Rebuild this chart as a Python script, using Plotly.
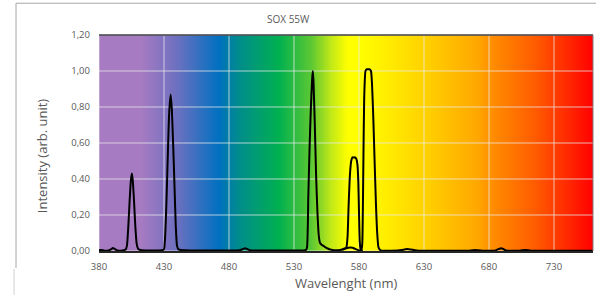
import plotly.graph_objects as go

# ---- data ----
wavelength = [380, 382, 384, 386, 388, 389.5, 390.7, 392, 393.5, 395, 397, 399, 400.5,
              401.5, 402.5, 403.5, 404.5, 405.3, 406, 407, 408, 409, 410, 411, 413, 416, 420, 425,
              428.5, 430, 431, 432, 433, 434, 435.1, 436, 437, 438, 439, 440, 441, 443, 446,
              450, 460, 470, 480, 486, 489, 491, 492.5, 494, 496, 499, 505, 515, 525,
              532, 537, 539, 540, 541, 542, 543, 544, 544.5, 545, 546, 547, 548, 549, 550,
              551, 552, 554, 556, 558, 561, 564, 567, 569, 570.3, 571.2, 572, 573, 574, 575,
              576, 577, 578, 578.8, 579.5, 580.1, 580.6, 581.2, 581.8, 582.5, 583.3, 584,
              585, 586, 587, 588, 589.2, 590, 591, 592, 593, 594, 595, 596.5, 598, 601, 605,
              610, 613, 617, 620, 623, 626, 635, 650, 665, 668, 669.5, 671, 675, 680, 684,
              686, 687.5, 689.3, 691, 692.5, 694, 698, 703, 705.5, 708, 710.5, 713, 720,
              730, 745, 760]
intensity = [0.006, 0.005, 0.003, 0.002, 0.004, 0.011, 0.016, 0.012, 0.005, 0.002, 0.002, 0.004, 0.008,
             0.03, 0.13, 0.27, 0.39, 0.43, 0.39, 0.27, 0.13, 0.04, 0.014, 0.007, 0.004, 0.003, 0.003, 0.003,
             0.004, 0.01, 0.1, 0.3, 0.55, 0.77, 0.87, 0.79, 0.6, 0.38, 0.15, 0.03, 0.01, 0.005, 0.004,
             0.003, 0.003, 0.003, 0.003, 0.003, 0.006, 0.012, 0.015, 0.011, 0.005, 0.003, 0.003, 0.003, 0.003,
             0.003, 0.003, 0.005, 0.02, 0.3, 0.58, 0.8, 0.96, 1.0, 0.94, 0.7, 0.42, 0.22, 0.09, 0.045,
             0.036, 0.031, 0.022, 0.014, 0.008, 0.004, 0.004, 0.008, 0.014, 0.02, 0.08, 0.25, 0.42, 0.5, 0.52,
             0.52, 0.52, 0.51, 0.48, 0.38, 0.18, 0.05, 0.01, 0.004, 0.04, 0.45, 0.85,
             1.0, 1.01, 1.01, 1.01, 1.0, 0.93, 0.74, 0.5, 0.27, 0.1, 0.02, 0.004, 0.002, 0.002, 0.002,
             0.003, 0.006, 0.011, 0.008, 0.004, 0.002, 0.002, 0.002, 0.002, 0.004, 0.005, 0.004, 0.002, 0.002, 0.002,
             0.006, 0.011, 0.015, 0.011, 0.005, 0.002, 0.002, 0.002, 0.004, 0.005, 0.004, 0.002, 0.002,
             0.002, 0.002, 0.002]

# weak continuum hump visible underneath the 575 nm band
hump_wavelength = [567, 569, 571, 573, 575, 577, 579, 581, 583]
hump_intensity = [0.006, 0.012, 0.017, 0.019, 0.018, 0.012, 0.006, 0.002, 0.002]

x_ticks = [380, 430, 480, 530, 580, 630, 680, 730]
y_ticks = [0.0, 0.2, 0.4, 0.6, 0.8, 1.0, 1.2]
x_range = [380, 760]
y_range = [0, 1.2]

# spectrum background gradient (wavelength -> colour)
gradient_nm = [380, 412, 440, 472, 487, 518, 543, 558, 571, 580, 606, 632, 670, 683, 716, 734, 760]
gradient_col = ["#A67BC2", "#A67BC2", "#6C70C0", "#0070C0", "#008C8C", "#00B050", "#5CC833",
                "#C0E818", "#FFFF00", "#FFFF00", "#FFE800", "#FFD000", "#FFA800", "#FF8C00",
                "#FF5A00", "#FF3500", "#FF0000"]

TEXT = "#595959"
FONT = "Open Sans"

fig = go.Figure()

bg_x = list(range(x_range[0], x_range[1] + 1, 2))
span = x_range[1] - x_range[0]
colorscale = [[(w - x_range[0]) / span, c] for w, c in zip(gradient_nm, gradient_col)]
fig.add_trace(go.Heatmap(
    x=bg_x, y=y_range, z=[bg_x, bg_x], zmin=x_range[0], zmax=x_range[1],
    colorscale=colorscale, zsmooth="best", showscale=False, hoverinfo="skip"))

# grid lines drawn above the gradient
gx, gy = [], []
for t in x_ticks:
    gx += [t, t, None]
    gy += [y_range[0], y_range[1], None]
for t in y_ticks:
    gx += [x_range[0], x_range[1], None]
    gy += [t, t, None]
fig.add_trace(go.Scatter(x=gx, y=gy, mode="lines", hoverinfo="skip", showlegend=False,
                         line=dict(color="rgba(235,235,235,0.75)", width=1)))

fig.add_trace(go.Scatter(x=hump_wavelength, y=hump_intensity, mode="lines", showlegend=False,
                         line=dict(color="black", width=2, shape="spline", smoothing=0.8)))
fig.add_trace(go.Scatter(x=wavelength, y=intensity, mode="lines", showlegend=False,
                         line=dict(color="black", width=2, shape="spline", smoothing=0.5)))

fig.update_layout(
    width=596, height=295, autosize=False,
    margin=dict(l=99, r=3, t=35, b=44),
    paper_bgcolor="white", plot_bgcolor="white",
    separators=",.",
    font=dict(family=FONT, color=TEXT, size=10),
    showlegend=False,
    xaxis=dict(range=x_range, tickvals=x_ticks, showgrid=False, zeroline=False,
               showline=True, linecolor="#262626", linewidth=2, ticks="",
               ticklabelstandoff=6, tickfont=dict(size=9.5, color=TEXT, family=FONT)),
    yaxis=dict(range=y_range, tickvals=y_ticks, tickformat=".2f", showgrid=False, zeroline=False,
               showline=False, ticks="", ticklabelstandoff=8,
               tickfont=dict(size=9.5, color=TEXT, family=FONT)),
    annotations=[
        dict(text="SOX 55W", xref="paper", yref="paper", x=0.3826, y=1.074, showarrow=False,
             xanchor="center", yanchor="middle", font=dict(size=10, color=TEXT, family=FONT)),
        dict(text="Wavelenght (nm)", xref="paper", yref="paper", x=0.5, y=-0.148, showarrow=False,
             xanchor="center", yanchor="middle", font=dict(size=13, color=TEXT, family=FONT)),
        dict(text="Intensity (arb. unit)", xref="paper", yref="paper", x=-0.115, y=0.44,
             showarrow=False, textangle=-90, xanchor="center", yanchor="middle",
             font=dict(size=13, color=TEXT, family=FONT)),
    ],
    shapes=[
        dict(type="line", xref="paper", yref="paper", x0=0, x1=1, y0=1, y1=1,
             line=dict(color="#3f3f46", width=1.5), layer="above"),
        dict(type="line", xref="paper", yref="paper", x0=1, x1=1, y0=0, y1=1,
             line=dict(color="#7f7f7f", width=1), layer="above"),
        dict(type="line", xref="paper", yref="paper", x0=-0.168, x1=1.02, y0=1.147, y1=1.147,
             line=dict(color="#a6a6a6", width=1)),
        dict(type="line", xref="paper", yref="paper", x0=-0.168, x1=-0.168, y0=1.147, y1=-0.079,
             line=dict(color="#a6a6a6", width=1)),
        dict(type="line", xref="paper", yref="paper", x0=-0.172, x1=-0.172, y0=-0.083, y1=-0.21,
             line=dict(color="#d0d0d0", width=1)),
    ],
)

fig.write_html("out.html", config={"displayModeBar": False},
               post_script="document.body.style.margin='0';document.body.style.overflow='hidden';")
